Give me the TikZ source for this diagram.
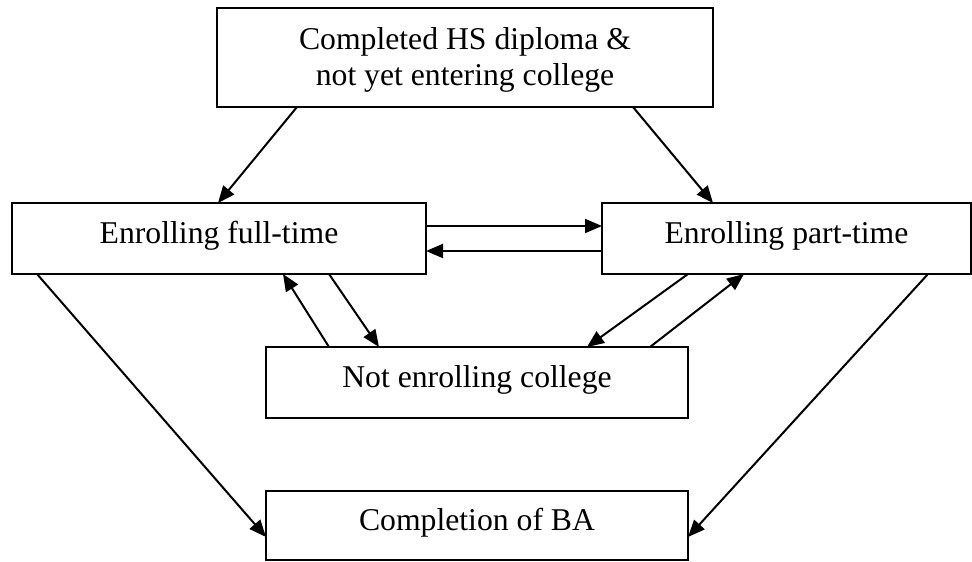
\documentclass[tikz,border=0pt]{standalone}
\usepackage{fontspec}
\setmainfont{Liberation Serif}
\usetikzlibrary{arrows.meta}
\begin{document}
\begin{tikzpicture}[x=1pt,y=-1pt,
  box/.style={draw,line width=2.2pt,inner sep=0pt,outer sep=0pt,
    font=\fontsize{31.7}{36}\selectfont,text height=21pt,text depth=11pt},
  conn/.style={line width=2pt,-{Triangle[length=17pt,width=14pt]}}]
\useasboundingbox (0,0) rectangle (972,562);
\node[box,minimum width=496pt,minimum height=99pt,align=center,text height=62pt,text depth=7pt] (top) at (465,57.5)
  {Completed HS diploma \&\\not yet entering college};
\node[box,minimum width=414pt,minimum height=71pt] (ft) at (219,238.5) {Enrolling full-time};
\node[box,minimum width=369pt,minimum height=71pt] (pt) at (786.5,238.5) {Enrolling part-time};
\node[box,minimum width=422pt,minimum height=71pt] (ne) at (477,382.5) {Not enrolling college};
\node[box,minimum width=422pt,minimum height=69pt] (ba) at (477,525.5) {Completion of BA};
\draw[conn] ([xshift=80pt]top.south west) -- ([xshift=206pt]ft.north west);
\draw[conn] ([xshift=416pt]top.south west) -- ([xshift=111pt]pt.north west);
\draw[conn] ([yshift=-23pt]ft.north east) -- ([yshift=-23pt]pt.north west);
\draw[conn] ([yshift=-48pt]pt.north west) -- ([yshift=-48pt]ft.north east);
\draw[conn] ([xshift=317pt]ft.south west) -- ([xshift=113pt]ne.north west);
\draw[conn] ([xshift=63pt]ne.north west) -- ([xshift=271pt]ft.south west);
\draw[conn] ([xshift=86pt]pt.south west) -- ([xshift=321pt]ne.north west);
\draw[conn] ([xshift=384pt]ne.north west) -- ([xshift=142pt]pt.south west);
\draw[conn] ([xshift=25pt]ft.south west) -- ([yshift=-46pt]ba.north west);
\draw[conn] ([xshift=326pt]pt.south west) -- ([yshift=-46pt]ba.north east);
\end{tikzpicture}
\end{document}
